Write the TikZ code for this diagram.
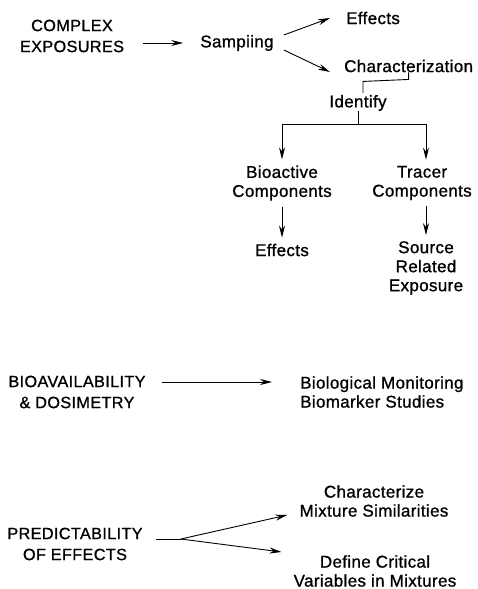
\documentclass[tikz,border=0pt]{standalone}
\usepackage{fontspec}
\setmainfont{Liberation Sans}[FakeBold=1]
\usetikzlibrary{arrows.meta,calc}
\begin{document}
\begin{tikzpicture}[x=1pt,y=-1pt,
  lbl/.style={inner sep=0pt, align=center, font=\fontsize{17}{19}\selectfont\addfontfeature{LetterSpace=2}},
  caps/.style={inner sep=0pt, align=center, font=\fontsize{16.3}{21}\selectfont\addfontfeature{LetterSpace=2}},
  conn/.style={line width=0.9pt},
  arr/.style={line width=0.9pt, -{Stealth[length=12pt,width=6pt]}}]
\useasboundingbox (0,0) rectangle (477,589);
% top section
\node[caps] (cx) at (72,36) {COMPLEX\\EXPOSURES};
\node[lbl] (samp) at (237,43) {Sampiing};
\node[lbl, anchor=west] (eff1) at (346,18) {Effects};
\node[lbl, anchor=west] (char) at (344,66) {Characterization};
\node[lbl] (ident) at (358,103) {Identify};
\node[lbl] (bio) at (282,183) {Bioactive\\Components};
\node[lbl] (tra) at (422,183) {Tracer\\Components};
\node[lbl] (eff2) at (282,250) {Effects};
\node[lbl] (src) at (426,268) {Source\\Related\\Exposure};
\draw[arr] ($(cx.east)+(19,7)$) -- ($(samp.west)+(-17,0)$);
\draw[arr] ($(samp.east)+(10,-8)$) -- ($(eff1.west)+(-16,0)$);
\draw[arr] ($(samp.east)+(10,7)$) -- ($(char.west)+(-14,6)$);
\draw[conn] (char.south) -- ++(0,7) coordinate (b1) -- ($(b1 -| ident.north)+(5,2)$) -- ($(ident.north)+(5,-2)$);
\draw[conn] (ident.south) -- ++(0,13) coordinate (hb);
\draw[conn] (hb -| bio.north) -- (hb -| src.north);
\draw[arr] (hb -| bio.north) -- ($(bio.north)+(0,-6)$);
\draw[arr] (hb -| src.north) -- ($(tra.north -| src.north)+(0,-6)$);
\draw[arr] ($(bio.south)+(0,6)$) -- ($(eff2.north)+(0,-6)$);
\draw[arr] ($(tra.south -| src.north)+(0,6)$) -- ($(src.north)+(0,-6)$);
% middle section
\node[caps] (bd) at (77,392) {BIOAVAILABILITY\\\& DOSIMETRY};
\node[lbl, align=left, anchor=west] (bm) at (300,392) {Biological Monitoring\\Biomarker Studies};
\draw[arr] ($(bd.east)+(16,-10)$) -- ($(bm.west)+(-28,-10)$);
% bottom section
\node[caps] (pe) at (75,544) {PREDICTABILITY\\OF EFFECTS};
\node[lbl] (cm) at (374,501) {Characterize\\Mixture Similarities};
\node[lbl] (dc) at (375,571) {Define Critical\\Variables in Mixtures};
\draw[conn] ($(pe.east)+(13,-5)$) -- ++(25,0) coordinate (j);
\draw[arr] (j) -- ($(cm.west)+(-12,14)$);
\draw[arr] (j) -- ($(dc.west)+(-12,-19)$);
\end{tikzpicture}
\end{document}
